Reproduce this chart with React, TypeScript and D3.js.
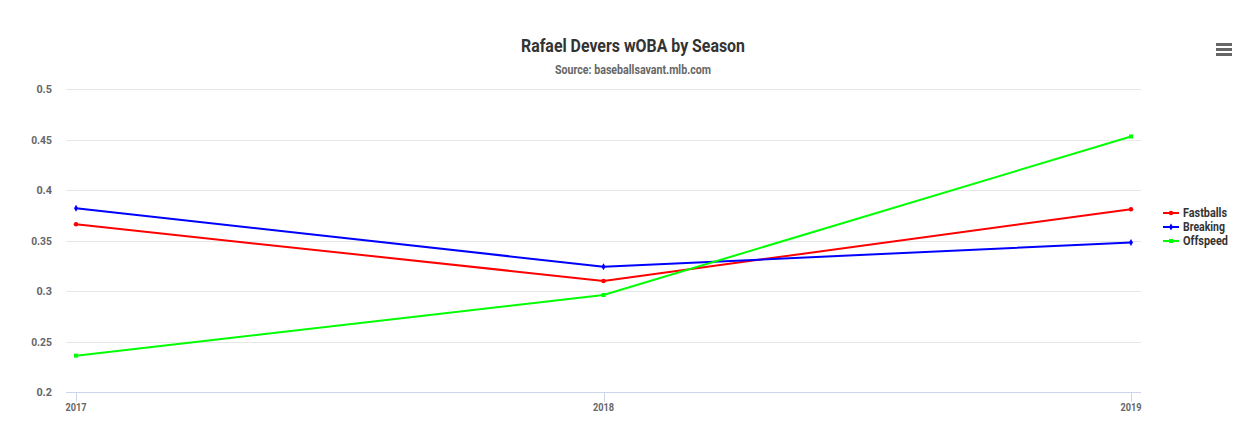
import React, { useEffect, useRef } from 'react';
import * as d3 from 'd3';

// Season categories and wOBA values
const seasons = ['2017', '2018', '2019'];
const fastballs = [0.366, 0.310, 0.381];
const breaking = [0.382, 0.324, 0.348];
const offspeed = [0.236, 0.296, 0.453];
const yTicks = [0.2, 0.25, 0.3, 0.35, 0.4, 0.45, 0.5];

const seriesNames = ['Fastballs', 'Breaking', 'Offspeed'];
const seriesColors = ['#ff0000', '#0000ff', '#00ff00'];
const seriesSymbols = [d3.symbolCircle, d3.symbolDiamond, d3.symbolSquare];
const legendWidths = [44, 42, 45];

export default function App() {
  const chartRef = useRef<SVGSVGElement>(null);

  useEffect(() => {
    if (!chartRef.current) return;
    const svg = d3.select(chartRef.current);
    svg.selectAll('*').remove();

    const width = 1251;
    const height = 427;
    const plot = { left: 66, right: 1141, top: 89, bottom: 392 };
    const font = 'Roboto, "Liberation Sans", sans-serif';

    const x = d3.scalePoint<string>()
      .domain(seasons)
      .range([plot.left, plot.right])
      .padding(0.019);
    const y = d3.scaleLinear().domain([0.2, 0.5]).range([plot.bottom, plot.top]);

    svg.append('rect').attr('width', width).attr('height', height).attr('fill', '#fff');

    // Title and subtitle
    svg.append('text')
      .attr('x', 633).attr('y', 52)
      .attr('text-anchor', 'middle')
      .attr('font-family', font).attr('font-weight', 'bold').attr('font-size', 17.5)
      .attr('fill', '#333')
      .attr('textLength', 224).attr('lengthAdjust', 'spacingAndGlyphs')
      .text('Rafael Devers wOBA by Season');
    svg.append('text')
      .attr('x', 633).attr('y', 74)
      .attr('text-anchor', 'middle')
      .attr('font-family', font).attr('font-weight', 'bold').attr('font-size', 12)
      .attr('fill', '#666')
      .attr('textLength', 156).attr('lengthAdjust', 'spacingAndGlyphs')
      .text('Source: baseballsavant.mlb.com');

    // Grid lines
    svg.selectAll('.grid')
      .data(yTicks.slice(1))
      .enter()
      .append('line')
      .attr('x1', plot.left).attr('x2', plot.right)
      .attr('y1', d => Math.round(y(d)) + 0.5).attr('y2', d => Math.round(y(d)) + 0.5)
      .attr('stroke', '#e6e6e6');

    // Y labels
    svg.selectAll('.ylab')
      .data(yTicks)
      .enter()
      .append('text')
      .attr('x', 52).attr('y', d => y(d) + 4)
      .attr('text-anchor', 'end')
      .attr('font-family', font).attr('font-weight', 'bold').attr('font-size', 11)
      .attr('fill', '#666')
      .attr('textLength', d => String(d).length * 5.2)
      .attr('lengthAdjust', 'spacingAndGlyphs')
      .text(d => String(d));

    // X axis line and ticks
    svg.append('line')
      .attr('x1', plot.left).attr('x2', plot.right)
      .attr('y1', plot.bottom + 0.5).attr('y2', plot.bottom + 0.5)
      .attr('stroke', '#ccd6eb');
    svg.selectAll('.xtick')
      .data(seasons)
      .enter()
      .append('line')
      .attr('x1', d => Math.round(x(d)!) + 0.5).attr('x2', d => Math.round(x(d)!) + 0.5)
      .attr('y1', plot.bottom).attr('y2', plot.bottom + 10)
      .attr('stroke', '#ccd6eb');
    svg.selectAll('.xlab')
      .data(seasons)
      .enter()
      .append('text')
      .attr('x', d => x(d)!).attr('y', 411)
      .attr('text-anchor', 'middle')
      .attr('font-family', font).attr('font-weight', 'bold').attr('font-size', 11)
      .attr('fill', '#666')
      .attr('textLength', 21).attr('lengthAdjust', 'spacingAndGlyphs')
      .text(d => d);

    // Series
    const allSeries = [fastballs, breaking, offspeed];
    const line = d3.line<number>()
      .x((d, i) => x(seasons[i])!)
      .y(d => y(d));

    allSeries.forEach((values, si) => {
      svg.append('path')
        .datum(values)
        .attr('d', line)
        .attr('fill', 'none')
        .attr('stroke', seriesColors[si])
        .attr('stroke-width', 2)
        .attr('stroke-linejoin', 'round')
        .attr('stroke-linecap', 'round');
      svg.selectAll(`.pt-${si}`)
        .data(values)
        .enter()
        .append('path')
        .attr('d', d3.symbol().type(seriesSymbols[si]).size(si === 1 ? 14 : 16))
        .attr('transform', (d, i) => `translate(${x(seasons[i])}, ${y(d)})`)
        .attr('fill', seriesColors[si]);
    });

    // Legend
    const legend = svg.append('g').attr('transform', 'translate(1163, 213)');
    seriesNames.forEach((name, i) => {
      const row = legend.append('g').attr('transform', `translate(0, ${i * 14})`);
      row.append('line')
        .attr('x1', 0).attr('x2', 16).attr('y1', 0).attr('y2', 0)
        .attr('stroke', seriesColors[i]).attr('stroke-width', 2);
      row.append('path')
        .attr('d', d3.symbol().type(seriesSymbols[i]).size(i === 1 ? 14 : 16))
        .attr('transform', 'translate(8, 0)')
        .attr('fill', seriesColors[i]);
      row.append('text')
        .attr('x', 20).attr('y', 4)
        .attr('font-family', font).attr('font-weight', 'bold').attr('font-size', 12)
        .attr('fill', '#333')
        .attr('textLength', legendWidths[i]).attr('lengthAdjust', 'spacingAndGlyphs')
        .text(name);
    });

    // Context menu icon
    [0, 5, 10].forEach(dy => {
      svg.append('line')
        .attr('x1', 1216).attr('x2', 1232)
        .attr('y1', 44.5 + dy).attr('y2', 44.5 + dy)
        .attr('stroke', '#666').attr('stroke-width', 3);
    });
  }, []);

  return (
    <div style={{ position: 'absolute', left: 0, top: 0 }}>
      <svg ref={chartRef} width={1251} height={427} style={{ display: 'block' }} />
    </div>
  );
}
